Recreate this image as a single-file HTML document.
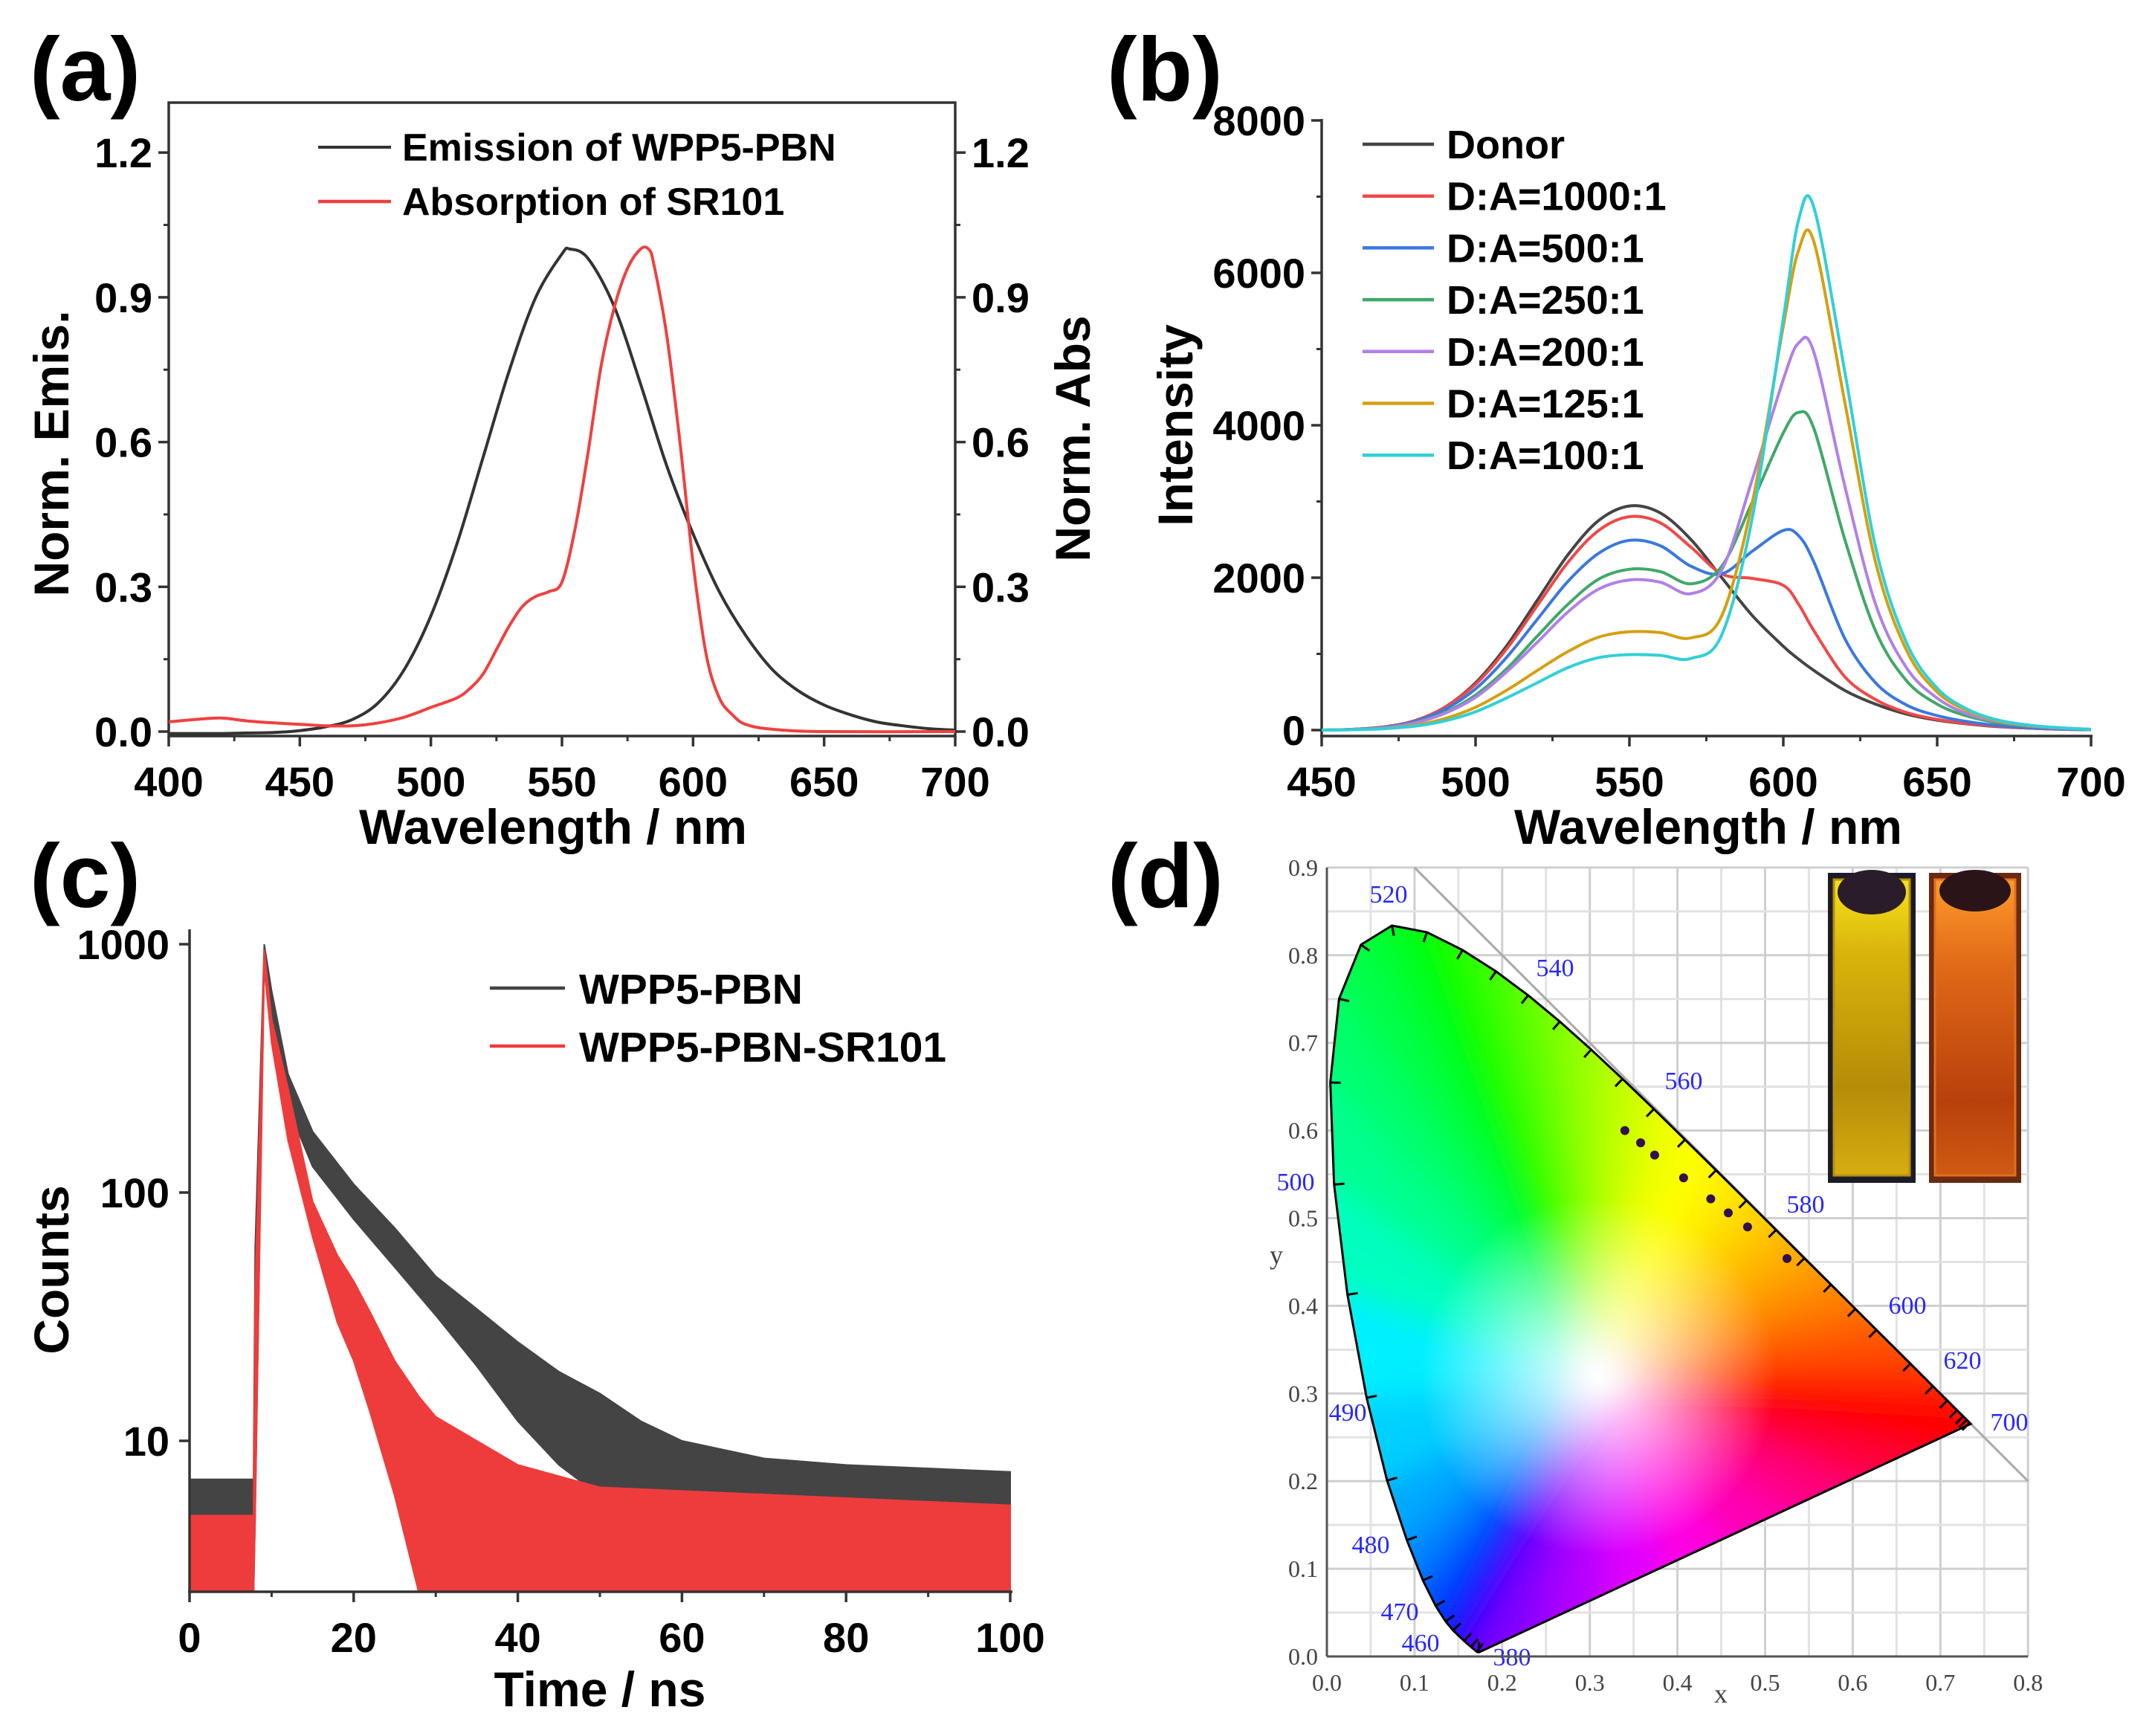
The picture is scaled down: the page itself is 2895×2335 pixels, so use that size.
<!DOCTYPE html>
<html><head><meta charset="utf-8"><style>
html,body{margin:0;padding:0;background:#fff;}
svg{display:block;font-family:"Liberation Sans",Arial,sans-serif;}
</style></head><body>
<svg id="fig" width="2895" height="2335" viewBox="0 0 2895 2335" xmlns="http://www.w3.org/2000/svg">
<defs>
<radialGradient id="wp" cx="0.5" cy="0.5" r="0.5"><stop offset="0" stop-color="#fff" stop-opacity="1"/><stop offset="0.45" stop-color="#fff" stop-opacity="0.55"/><stop offset="1" stop-color="#fff" stop-opacity="0"/></radialGradient>
<linearGradient id="vialY" x1="0" y1="0" x2="0" y2="1"><stop offset="0" stop-color="#f5e21a"/><stop offset="0.25" stop-color="#d9b40c"/><stop offset="0.7" stop-color="#b58c08"/><stop offset="1" stop-color="#d6ad10"/></linearGradient>
<linearGradient id="vialO" x1="0" y1="0" x2="0" y2="1"><stop offset="0" stop-color="#ff9a2a"/><stop offset="0.3" stop-color="#e06818"/><stop offset="0.75" stop-color="#b8400c"/><stop offset="1" stop-color="#d05a14"/></linearGradient>
<clipPath id="clipC"><rect x="255" y="1250" width="1110" height="891"/></clipPath>
<clipPath id="clipLocus"><polygon id="locusClipPoly" points=""/></clipPath>
<filter id="blurF" x="-20%" y="-20%" width="140%" height="140%"><feGaussianBlur stdDeviation="22"/></filter>
</defs>
</svg>
<script>
// ---------- Panel (a) data ----------
const aEmisWl = [400,410,420,430,440,450,460,470,480,490,500,510,520,530,540,550,553,560,570,580,590,600,610,620,630,640,650,660,670,680,690,700];
const aEmisVal = [-0.004,-0.004,-0.004,-0.003,-0.002,0.002,0.01,0.025,0.06,0.13,0.24,0.39,0.57,0.75,0.9,0.99,1.0,0.98,0.88,0.72,0.55,0.41,0.29,0.2,0.13,0.085,0.055,0.035,0.02,0.012,0.006,0.003];
const aAbsWl = [400,410,420,430,440,450,460,470,480,490,500,510,515,520,525,530,535,540,545,550,555,560,565,570,575,580,583,585,590,595,600,605,610,615,620,630,650,700];
const aAbsVal = [0.02,0.025,0.028,0.022,0.018,0.015,0.012,0.012,0.018,0.03,0.05,0.07,0.09,0.12,0.17,0.22,0.26,0.28,0.29,0.31,0.42,0.58,0.76,0.88,0.96,1.0,1.0,0.97,0.82,0.6,0.35,0.16,0.07,0.035,0.015,0.005,0.0,0.0];
const aTicks = [0.0,0.3,0.6,0.9,1.2];
const aXTicks = [400,450,500,550,600,650,700];

// ---------- Panel (b) data ----------
const bWl = [450,460,470,480,490,500,510,520,530,540,550,560,570,580,590,600,605,610,620,630,640,650,660,670,680,690,700];
const bDonor = [0,10,40,120,300,620,1100,1700,2300,2750,2940,2850,2500,2000,1500,1100,930,780,520,340,210,130,80,45,25,12,5];
const b1000 = [0,10,40,120,300,600,1060,1630,2200,2620,2800,2720,2400,2050,1990,1900,1650,1300,700,400,230,140,85,50,25,12,5];
const b500 = [0,10,35,110,270,540,950,1450,1950,2320,2490,2420,2150,2050,2350,2620,2550,2200,1200,620,330,190,110,60,30,15,5];
const b250 = [0,8,30,95,230,460,800,1230,1650,1980,2110,2080,1920,2150,3000,3900,4170,3950,2500,1300,650,340,180,95,50,25,10];
const b200 = [0,8,28,90,220,430,760,1150,1550,1850,1970,1940,1790,2100,3300,4600,5080,4950,3200,1650,820,420,210,110,55,25,10];
const b125 = [0,6,20,60,150,300,520,780,1030,1220,1290,1280,1210,1500,3000,5300,6300,6400,4300,2200,1050,500,250,120,60,30,10];
const b100 = [0,5,18,50,120,240,420,620,820,950,990,980,940,1250,2800,5400,6700,6850,4700,2400,1150,550,270,130,65,30,10];
const bLabels = ["Donor","D:A=1000:1","D:A=500:1","D:A=250:1","D:A=200:1","D:A=125:1","D:A=100:1"];
const bYTicks = [0,2000,4000,6000,8000];
const bXTicks = [450,500,550,600,650,700];

// ---------- Panel (c) data ----------
const cBlackT = [0,7.8,8.0,9.1,10,12,15,20,25,30,35,40,45,50,55,60,70,80,100];
const cBlackUp = [7,7,60,1000,650,300,176,108,72,46,34,25,19,15.5,12,10,8.5,8,7.5];
const cBlackLo = [2.4,2.4,5,900,500,220,127,78,50,32,20,12,8,6,4,3,2.4,2.4,2.4];
const cRedT = [0,7.8,8.0,9.1,10,12,15,18,20,22,25,28,30,35,40,50,100];
const cRedUp = [5,5,40,950,500,263,92,56,44,33,21,15,12.5,10,8,6.5,5.5];
const cRedLo = [2.4,2.4,5,800,400,162,66,30,21,13,6,2.4,2.4,2.4,2.4,2.4,2.4];
const cYTicks = [10,100,1000];
const cXTicks = [0,20,40,60,80,100];

// ---------- Panel (d) data ----------
const dLocusNm = [380,400,420,440,450,460,465,470,475,480,485,490,495,500,505,510,515,520,525,530,535,540,545,550,555,560,565,570,575,580,585,590,595,600,610,620,630,640,650,660,680,700];
const dLocusX = [.1741,.1733,.1714,.1644,.1566,.1440,.1355,.1241,.1096,.0913,.0687,.0454,.0235,.0082,.0039,.0139,.0389,.0743,.1142,.1547,.1929,.2296,.2658,.3016,.3373,.3731,.4087,.4441,.4788,.5125,.5448,.5752,.6029,.6270,.6658,.6915,.7079,.7190,.7260,.7300,.7334,.7347];
const dLocusY = [.0050,.0048,.0051,.0109,.0177,.0297,.0399,.0578,.0868,.1327,.2007,.2950,.4127,.5384,.6548,.7502,.8120,.8338,.8262,.8059,.7816,.7543,.7243,.6923,.6589,.6245,.5896,.5547,.5202,.4866,.4544,.4242,.3965,.3725,.3340,.3083,.2920,.2809,.2740,.2700,.2666,.2653];
const dPtX = [0.340,0.358,0.374,0.407,0.438,0.458,0.480,0.525];
const dPtY = [0.600,0.586,0.572,0.546,0.522,0.506,0.490,0.454];
const dLblNm = ["520","540","560","580","600","620","700","500","490","480","470","460","380"];

const NS = "http://www.w3.org/2000/svg";
const svg = document.getElementById('fig');
function add(tag, attrs, name, parent, text) {
  const el = document.createElementNS(NS, tag);
  for (const k in attrs) el.setAttribute(k, attrs[k]);
  
  
  if (text !== undefined) el.textContent = text;
  (parent || svg).appendChild(el);
  return el;
}
function smooth(pts) {
  let d = `M${pts[0][0].toFixed(1)},${pts[0][1].toFixed(1)}`;
  for (let i = 0; i < pts.length - 1; i++) {
    const p0 = pts[i-1] || pts[i], p1 = pts[i], p2 = pts[i+1], p3 = pts[i+2] || p2;
    const c1 = [p1[0] + (p2[0]-p0[0])/6, p1[1] + (p2[1]-p0[1])/6];
    const c2 = [p2[0] - (p3[0]-p1[0])/6, p2[1] - (p3[1]-p1[1])/6];
    d += `C${c1[0].toFixed(1)},${c1[1].toFixed(1)} ${c2[0].toFixed(1)},${c2[1].toFixed(1)} ${p2[0].toFixed(1)},${p2[1].toFixed(1)}`;
  }
  return d;
}
function txt(x, y, s, size, name, extra, parent) {
  const a = Object.assign({x:x, y:y, "font-size":size, "font-weight":"bold", fill:"#000"}, extra || {});
  return add('text', a, name, parent, s);
}

// ================= Panel (a) =================
const gA = add('g', {}, 'panel-a');
const xa = w => 227 + (w-400)/300*1058;
const ya = v => 984 - v/0.3*194.7;
txt(40, 135, "(a)", 122, 'panel-a-label', {}, gA);
add('rect', {x:227, y:138, width:1058, height:852, fill:"none", stroke:"#333", "stroke-width":3.5}, 'panel-a-frame', gA);
aTicks.forEach(v => {
  add('line', {x1:213, x2:227, y1:ya(v), y2:ya(v), stroke:"#333", "stroke-width":3.5}, 'y-tick-left', gA);
  add('line', {x1:1285, x2:1299, y1:ya(v), y2:ya(v), stroke:"#333", "stroke-width":3.5}, 'y-tick-right', gA);
  txt(205, ya(v)+20, v.toFixed(1), 56, 'y-tick-label-left', {"text-anchor":"end"}, gA);
  txt(1307, ya(v)+20, v.toFixed(1), 56, 'y-tick-label-right', {}, gA);
});
for (let v = 0.15; v < 1.3; v += 0.3) {
  add('line', {x1:220, x2:227, y1:ya(v), y2:ya(v), stroke:"#333", "stroke-width":3}, 'y-minor-tick', gA);
  add('line', {x1:1285, x2:1292, y1:ya(v), y2:ya(v), stroke:"#333", "stroke-width":3}, 'y-minor-tick', gA);
}
aXTicks.forEach(w => {
  add('line', {x1:xa(w), x2:xa(w), y1:990, y2:1004, stroke:"#333", "stroke-width":3.5}, 'x-tick', gA);
  txt(xa(w), 1071, String(w), 56, 'x-tick-label', {"text-anchor":"middle"}, gA);
  if (w < 700) add('line', {x1:xa(w+25), x2:xa(w+25), y1:990, y2:997, stroke:"#333", "stroke-width":3}, 'x-minor-tick', gA);
});
txt(744, 1135, "Wavelength / nm", 66, 'x-axis-title', {"text-anchor":"middle"}, gA);
txt(0, 0, "Norm. Emis.", 66, 'y-axis-title-left', {"text-anchor":"middle", transform:"translate(92,610) rotate(-90)"}, gA);
txt(0, 0, "Norm. Abs", 66, 'y-axis-title-right', {"text-anchor":"middle", transform:"translate(1466,590) rotate(-90)"}, gA);
add('path', {d:smooth(aEmisWl.map((w,i)=>[xa(w), ya(aEmisVal[i])])), fill:"none", stroke:"#333", "stroke-width":4}, 'emission-curve', gA);
add('path', {d:smooth(aAbsWl.map((w,i)=>[xa(w), ya(aAbsVal[i])])), fill:"none", stroke:"#f04040", "stroke-width":4}, 'absorption-curve', gA);
add('line', {x1:428, x2:526, y1:198, y2:198, stroke:"#333", "stroke-width":4}, 'legend-line-emission', gA);
add('line', {x1:428, x2:526, y1:271, y2:271, stroke:"#f04040", "stroke-width":4.5}, 'legend-line-absorption', gA);
txt(541, 216, "Emission of WPP5-PBN", 52, 'legend-entry-emission', {}, gA);
txt(541, 289, "Absorption of SR101", 52, 'legend-entry-absorption', {}, gA);

// ================= Panel (b) =================
const gB = add('g', {}, 'panel-b');
const xb = w => 1778 + (w-450)/250*1035;
const yb = v => 982 - v/8000*820;
txt(1489, 135, "(b)", 122, 'panel-b-label', {}, gB);
add('line', {x1:1778, x2:1778, y1:160, y2:992, stroke:"#333", "stroke-width":3.5}, 'y-axis-line', gB);
add('line', {x1:1776, x2:2815, y1:990, y2:990, stroke:"#333", "stroke-width":3.5}, 'x-axis-line', gB);
bYTicks.forEach(v => {
  add('line', {x1:1764, x2:1778, y1:yb(v), y2:yb(v), stroke:"#333", "stroke-width":3.5}, 'y-tick', gB);
  txt(1756, yb(v)+20, String(v), 56, 'y-tick-label', {"text-anchor":"end"}, gB);
  if (v < 8000) add('line', {x1:1771, x2:1778, y1:yb(v+1000), y2:yb(v+1000), stroke:"#333", "stroke-width":3}, 'y-minor-tick', gB);
});
bXTicks.forEach(w => {
  add('line', {x1:xb(w), x2:xb(w), y1:990, y2:1004, stroke:"#333", "stroke-width":3.5}, 'x-tick', gB);
  txt(xb(w), 1071, String(w), 56, 'x-tick-label', {"text-anchor":"middle"}, gB);
  if (w < 700) add('line', {x1:xb(w+25), x2:xb(w+25), y1:990, y2:997, stroke:"#333", "stroke-width":3}, 'x-minor-tick', gB);
});
txt(2298, 1135, "Wavelength / nm", 66, 'x-axis-title', {"text-anchor":"middle"}, gB);
txt(0, 0, "Intensity", 66, 'y-axis-title', {"text-anchor":"middle", transform:"translate(1604,572) rotate(-90)"}, gB);
const bSeries = [bDonor, b1000, b500, b250, b200, b125, b100];
const bColors = ["#444","#f04848","#3a78e0","#40a868","#b080e8","#d4a010","#30d0d8"];
const bNames = ["series-donor","series-1000-1","series-500-1","series-250-1","series-200-1","series-125-1","series-100-1"];
bSeries.forEach((s, k) => {
  add('path', {d:smooth(bWl.map((w,i)=>[xb(w), yb(s[i])])), fill:"none", stroke:bColors[k], "stroke-width":4}, bNames[k], gB);
  const ly = 194 + k*69.7;
  add('line', {x1:1833, x2:1929, y1:ly, y2:ly, stroke:bColors[k], "stroke-width":4.5}, 'legend-line', gB);
  txt(1946, ly+19, bLabels[k], 54, 'legend-entry', {}, gB);
});

// ================= Panel (c) =================
const gC = add('g', {}, 'panel-c');
const xc = t => 255 + t*11.04;
const yc = c => 1938 - (Math.log10(c) - 1)*334;
txt(40, 1220, "(c)", 122, 'panel-c-label', {}, gC);
function band(T, up, lo, color, name) {
  let d = "M" + T.map((t,i)=>`${xc(t).toFixed(1)},${yc(up[i]).toFixed(1)}`).join("L");
  d += "L" + T.slice().reverse().map((t,j)=>{const i=T.length-1-j; return `${xc(t).toFixed(1)},${yc(lo[i]).toFixed(1)}`;}).join("L") + "Z";
  add('path', {d:d, fill:color, stroke:color, "stroke-width":2, "clip-path":"url(#clipC)"}, name, gC);
}
band(cBlackT, cBlackUp, cBlackLo, "#444444", 'decay-wpp5-pbn');
band(cRedT, cRedUp, cRedLo, "#ee3c3c", 'decay-wpp5-pbn-sr101');
add('line', {x1:255, x2:255, y1:1250, y2:2143, stroke:"#333", "stroke-width":3.5}, 'y-axis-line', gC);
add('line', {x1:253, x2:1362, y1:2141, y2:2141, stroke:"#333", "stroke-width":3.5}, 'x-axis-line', gC);
cYTicks.forEach(v => {
  add('line', {x1:241, x2:255, y1:yc(v), y2:yc(v), stroke:"#333", "stroke-width":3.5}, 'y-tick', gC);
  txt(228, yc(v)+20, String(v), 56, 'y-tick-label', {"text-anchor":"end"}, gC);
});
cXTicks.forEach(t => {
  add('line', {x1:xc(t), x2:xc(t), y1:2141, y2:2155, stroke:"#333", "stroke-width":3.5}, 'x-tick', gC);
  txt(xc(t), 2222, String(t), 56, 'x-tick-label', {"text-anchor":"middle"}, gC);
  if (t < 100) add('line', {x1:xc(t+10), x2:xc(t+10), y1:2141, y2:2148, stroke:"#333", "stroke-width":3}, 'x-minor-tick', gC);
});
txt(807, 2295, "Time / ns", 66, 'x-axis-title', {"text-anchor":"middle"}, gC);
txt(0, 0, "Counts", 66, 'y-axis-title', {"text-anchor":"middle", transform:"translate(92,1708) rotate(-90)"}, gC);
add('line', {x1:659, x2:760, y1:1329, y2:1329, stroke:"#444", "stroke-width":4.5}, 'legend-line-wpp5-pbn', gC);
add('line', {x1:659, x2:760, y1:1407, y2:1407, stroke:"#ee3c3c", "stroke-width":4.5}, 'legend-line-wpp5-pbn-sr101', gC);
txt(779, 1350, "WPP5-PBN", 57, 'legend-entry-wpp5-pbn', {}, gC);
txt(779, 1428, "WPP5-PBN-SR101", 57, 'legend-entry-wpp5-pbn-sr101', {}, gC);

// ================= Panel (d) =================
const gD = add('g', {}, 'panel-d');
const xd = x => 1785 + x*1179;
const yd = y => 2228 - y*1179;
txt(1490, 1220, "(d)", 122, 'panel-d-label', {}, gD);
for (let i = 0; i <= 16; i++) {
  const v = i*0.05;
  add('line', {x1:xd(v), x2:xd(v), y1:yd(0), y2:yd(0.9), stroke: i%2 ? "#e2e2e2" : "#cfcfcf", "stroke-width":3}, 'grid-x', gD);
}
for (let i = 0; i <= 18; i++) {
  const v = i*0.05;
  add('line', {x1:xd(0), x2:xd(0.8), y1:yd(v), y2:yd(v), stroke: i%2 ? "#e2e2e2" : "#cfcfcf", "stroke-width":3}, 'grid-y', gD);
}
add('line', {x1:xd(0.1), y1:yd(0.9), x2:xd(0.8), y2:yd(0.2), stroke:"#aaa", "stroke-width":3}, 'diagonal-line', gD);
const dColors = {380:"#7000ff",400:"#6a00ff",420:"#5500ff",440:"#3000ff",450:"#1a00ff",460:"#0010ff",465:"#0030ff",470:"#0050ff",475:"#0080ff",480:"#00a8ff",485:"#00d0ff",490:"#00f0ff",495:"#00ffc0",500:"#00ff90",505:"#00ff70",510:"#00ff50",515:"#00ff30",520:"#00ff10",525:"#10ff00",530:"#30ff00",535:"#50ff00",540:"#70ff00",545:"#90ff00",550:"#b0ff00",555:"#d0ff00",560:"#f0ff00",565:"#ffff00",570:"#ffea00",575:"#ffd000",580:"#ffb400",585:"#ff9a00",590:"#ff8000",595:"#ff6800",600:"#ff5000",610:"#ff3000",620:"#ff1800",630:"#ff0800",640:"#ff0000",650:"#ff0000",660:"#ff0000",680:"#ff0000",700:"#ff0000"};
const locusPts = dLocusNm.map((w,i)=>`${xd(dLocusX[i]).toFixed(1)},${yd(dLocusY[i]).toFixed(1)}`).join(" ");
document.getElementById('locusClipPoly').setAttribute('points', locusPts);
const wx = xd(0.31), wy = yd(0.32);
const gClip = add('g', {"clip-path":"url(#clipLocus)"}, 'chromaticity-region', gD);
const gFill = add('g', {filter:"url(#blurF)"}, 'chromaticity-fill', gClip);
function ext(px, py, f) { return [wx + (px-wx)*f, wy + (py-wy)*f]; }
for (let i = 0; i < dLocusNm.length - 1; i++) {
  const c = dColors[dLocusNm[i]];
  const p1 = ext(xd(dLocusX[i]), yd(dLocusY[i]), 1.15), p2 = ext(xd(dLocusX[i+1]), yd(dLocusY[i+1]), 1.15);
  add('polygon', {points:`${wx},${wy} ${p1[0]},${p1[1]} ${p2[0]},${p2[1]}`, fill:c, stroke:c, "stroke-width":2}, 'locus-wedge', gFill);
}
const purple = ["#ff0000","#ff0040","#ff0080","#ff00b0","#ff00e0","#e000ff","#b000ff","#8000ff","#7000ff"];
const n = dLocusNm.length - 1;
for (let k = 0; k < purple.length - 1; k++) {
  const f0 = k/(purple.length-1), f1 = (k+1)/(purple.length-1);
  const x0 = dLocusX[n] + (dLocusX[0]-dLocusX[n])*f0, y0 = dLocusY[n] + (dLocusY[0]-dLocusY[n])*f0;
  const x1 = dLocusX[n] + (dLocusX[0]-dLocusX[n])*f1, y1 = dLocusY[n] + (dLocusY[0]-dLocusY[n])*f1;
  const p1 = ext(xd(x0), yd(y0), 1.3), p2 = ext(xd(x1), yd(y1), 1.3);
  add('polygon', {points:`${wx},${wy} ${p1[0]},${p1[1]} ${p2[0]},${p2[1]}`, fill:purple[k], stroke:purple[k], "stroke-width":2}, 'purple-line-wedge', gFill);
}
add('ellipse', {cx:wx, cy:wy, rx:240, ry:240, fill:"url(#wp)"}, 'white-point-glow', gClip);
add('polygon', {points:locusPts, fill:"none", stroke:"#000", "stroke-width":3}, 'spectral-locus-outline', gD);
for (let i = 1; i < dLocusNm.length - 1; i++) {
  const dx = dLocusX[i+1]-dLocusX[i-1], dy = dLocusY[i+1]-dLocusY[i-1];
  const px = xd(dLocusX[i]), py = yd(dLocusY[i]);
  const L = Math.hypot(dx, dy); const nx = dy/L, ny = dx/L;
  add('line', {x1:px, y1:py, x2:px + nx*14, y2:py + ny*14, stroke:"#000", "stroke-width":3}, 'locus-tick', gD);
}
dPtX.forEach((x,i) => {
  add('circle', {cx:xd(x), cy:yd(dPtY[i]), r:6, fill:"#301050"}, 'cie-point', gD);
});
const lblPos = [[1868,1214],[2092,1313],[2265,1465],[2429,1631],[2566,1767],[2640,1841],[2703,1924],[1743,1601],[1813,1911],[1844,2089],[1883,2179],[1911,2221],[2034,2240]];
dLblNm.forEach((s,i) => {
  add('text', {x:lblPos[i][0], y:lblPos[i][1], "font-size":34, fill:"#2828ff", "text-anchor":"middle", "font-family":"Liberation Serif, serif"}, 'wavelength-label', gD, s);
});
add('line', {x1:xd(0), x2:xd(0), y1:yd(0), y2:yd(0.9), stroke:"#555", "stroke-width":3}, 'd-y-axis', gD);
add('line', {x1:xd(0), x2:xd(0.8), y1:yd(0), y2:yd(0), stroke:"#555", "stroke-width":3}, 'd-x-axis', gD);
for (let i = 0; i <= 9; i++) {
  add('text', {x:1773, y:yd(i/10)+11, "font-size":32, fill:"#444", "text-anchor":"end", "font-family":"Liberation Serif, serif"}, 'd-y-tick-label', gD, (i/10).toFixed(1));
}
for (let i = 0; i <= 8; i++) {
  add('text', {x:xd(i/10), y:2274, "font-size":32, fill:"#444", "text-anchor":"middle", "font-family":"Liberation Serif, serif"}, 'd-x-tick-label', gD, (i/10).toFixed(1));
}
add('text', {x:2315, y:2290, "font-size":36, fill:"#444", "text-anchor":"middle", "font-family":"Liberation Serif, serif"}, 'd-x-axis-title', gD, "x");
add('text', {x:1717, y:1700, "font-size":36, fill:"#444", "text-anchor":"middle", "font-family":"Liberation Serif, serif"}, 'd-y-axis-title', gD, "y");
add('rect', {x:2459, y:1174, width:118, height:417, fill:"#1c1c28"}, 'vial-yellow-frame', gD);
add('rect', {x:2467, y:1183, width:102, height:398, fill:"url(#vialY)", stroke:"#b89010", "stroke-width":3}, 'vial-yellow', gD);
add('ellipse', {cx:2518, cy:1200, rx:46, ry:30, fill:"#2a1c28"}, 'vial-yellow-cap', gD);
add('rect', {x:2595, y:1174, width:124, height:417, fill:"#6a2a10"}, 'vial-orange-frame', gD);
add('rect', {x:2603, y:1183, width:108, height:398, fill:"url(#vialO)", stroke:"#e07020", "stroke-width":3}, 'vial-orange', gD);
add('ellipse', {cx:2657, cy:1198, rx:48, ry:28, fill:"#2a1418"}, 'vial-orange-cap', gD);
</script>
</body></html>
